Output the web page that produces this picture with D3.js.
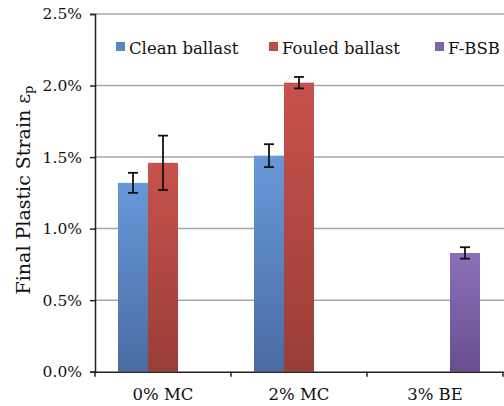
<!DOCTYPE html>
<html><head><meta charset="utf-8">
<script src="https://cdn.jsdelivr.net/npm/d3@7"></script>
<style>
html,body{margin:0;padding:0;background:#fff;}
svg{display:block;font-family:"DejaVu Serif","Liberation Serif",serif;}
</style></head>
<body><svg id="c" width="504" height="406"></svg>
<script>
const categories = ["0% MC", "2% MC", "3% BE"];
const seriesNames = ["Clean ballast", "Fouled ballast", "F-BSB"];
const cleanValues = [0.0132, 0.0151, null];
const cleanErrors = [0.0007, 0.0008, null];
const fouledValues = [0.0146, 0.0202, null];
const fouledErrors = [0.0019, 0.0004, null];
const fbsbValues = [null, null, 0.0083];
const fbsbErrors = [null, null, 0.0004];
const yTicks = [0, 0.005, 0.01, 0.015, 0.02, 0.025];

(function(){
const FONT = '"DejaVu Serif","Liberation Serif",serif';
const seriesValues = [cleanValues, fouledValues, fbsbValues];
const seriesErrors = [cleanErrors, fouledErrors, fbsbErrors];
const colors = [
  {top:"#6898da", bot:"#4a6ba3", legend:"#5a86c6"},
  {top:"#c8524c", bot:"#9a3d37", legend:"#bf4c46"},
  {top:"#8b70b9", bot:"#684e90", legend:"#8064a8"}
];

const svg = d3.select("#c");
const mLeft = 95, mRight = 503, mTop = 14, mBottom = 371.7;
const x = d3.scaleBand().domain(categories).range([mLeft, mRight]).padding(0);
const xs = d3.scaleBand().domain(seriesNames).range([-45, 45]).padding(0);
const y = d3.scaleLinear().domain([0, 0.025]).range([mBottom, mTop]);

const defs = svg.append("defs");
colors.forEach((c, i) => {
  const g = defs.append("linearGradient").attr("id", "g" + i)
    .attr("x1", 0).attr("y1", 0).attr("x2", 0).attr("y2", 1);
  g.append("stop").attr("offset", "0%").attr("stop-color", c.top);
  g.append("stop").attr("offset", "100%").attr("stop-color", c.bot);
});

svg.append("g").selectAll("line").data(yTicks.slice(1)).join("line")
  .attr("x1", mLeft).attr("x2", 504)
  .attr("y1", d => y(d)).attr("y2", d => y(d))
  .attr("stroke", "#a6a6a6").attr("stroke-width", 1.5);

const data = [];
seriesNames.forEach((s, si) => {
  categories.forEach((c, ci) => {
    const v = seriesValues[si][ci];
    if (v != null) data.push({s, si, c, v, e: seriesErrors[si][ci]});
  });
});
svg.append("g").selectAll("rect").data(data).join("rect")
  .attr("x", d => x(d.c) + x.bandwidth() / 2 + xs(d.s))
  .attr("width", xs.bandwidth())
  .attr("y", d => y(d.v))
  .attr("height", d => y(0) - y(d.v))
  .attr("fill", d => "url(#g" + d.si + ")");

const eb = svg.append("g").attr("stroke", "#111").attr("stroke-width", 1.8);
data.forEach(d => {
  const cx = x(d.c) + x.bandwidth() / 2 + xs(d.s) + xs.bandwidth() / 2;
  const y1 = y(d.v + d.e), y2 = y(d.v - d.e);
  eb.append("line").attr("x1", cx).attr("x2", cx).attr("y1", y1).attr("y2", y2);
  eb.append("line").attr("x1", cx - 5).attr("x2", cx + 5).attr("y1", y1).attr("y2", y1);
  eb.append("line").attr("x1", cx - 5).attr("x2", cx + 5).attr("y1", y2).attr("y2", y2);
});

const yAxis = d3.axisLeft(y).tickValues(yTicks).tickSize(5).tickPadding(8)
  .tickFormat(d3.format(".1%"));
const ya = svg.append("g").attr("transform", `translate(${mLeft},0)`).call(yAxis);
ya.attr("font-family", FONT);
ya.select(".domain").attr("stroke", "#222").attr("stroke-width", 1.5);
ya.selectAll(".tick line").attr("stroke", "#222").attr("stroke-width", 1.5);
ya.selectAll(".tick text").style("font-family", FONT).attr("font-size", 15.5).attr("fill", "#111");

const xAxis = d3.axisBottom(x).tickSize(0).tickPadding(17);
const xa = svg.append("g").attr("transform", `translate(0,${mBottom})`).call(xAxis);
xa.attr("font-family", FONT);
xa.select(".domain").attr("stroke", "#222").attr("stroke-width", 1.5);
xa.selectAll(".tick text").style("font-family", FONT).attr("font-size", 16.5).attr("fill", "#111");
const bounds = categories.map(c => x(c)).concat([x(categories[categories.length - 1]) + x.bandwidth()]);
xa.append("g").selectAll("line").data(bounds).join("line")
  .attr("x1", d => d).attr("x2", d => d).attr("y1", 0).attr("y2", 5)
  .attr("stroke", "#222").attr("stroke-width", 1.5);

const legendX = [116, 269, 435];
const lg = svg.append("g");
seriesNames.forEach((s, i) => {
  lg.append("rect").attr("x", legendX[i]).attr("y", 42).attr("width", 9).attr("height", 9)
    .attr("fill", colors[i].legend);
  lg.append("text").attr("x", legendX[i] + 13).attr("y", 53.5)
    .style("font-family", FONT).attr("font-size", 16.5).attr("fill", "#111").text(s);
});

const yt = svg.append("text").attr("transform", "translate(30,190) rotate(-90)")
  .style("font-family", FONT)
  .attr("text-anchor", "middle").attr("font-size", 19).attr("fill", "#111");
yt.append("tspan").text("Final Plastic Strain ε");
yt.append("tspan").attr("font-size", 13).attr("dy", 3).text("p");
})();
</script>
</body></html>
